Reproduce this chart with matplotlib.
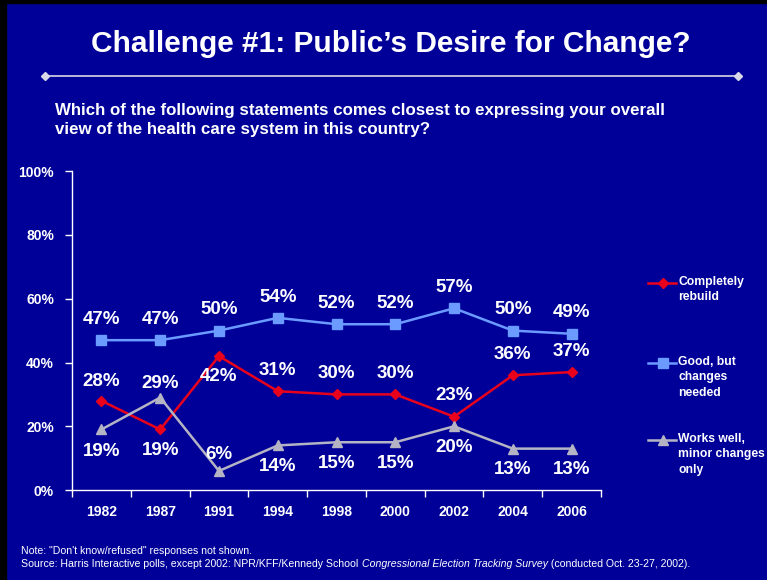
import matplotlib.pyplot as plt
from matplotlib.lines import Line2D
from matplotlib.patches import Rectangle

years = ["1982", "1987", "1991", "1994", "1998", "2000", "2002", "2004", "2006"]
good_but_changes = [47, 47, 50, 54, 52, 52, 57, 50, 49]
completely_rebuild = [28, 19, 42, 31, 30, 30, 23, 36, 37]
works_well = [19, 29, 6, 14, 15, 15, 20, 13, 13]
y_ticks = [0, 20, 40, 60, 80, 100]

# vertical offset of each value label from its point, in points (+ above, - below)
good_off = [15, 15, 15, 15, 15, 15, 15, 15, 15]
rebuild_off = [14, -15, -15, 15, 15, 15, 15, 15, 15]
works_off = [-16, 10, 12, -15, -15, -15, -15, -15, -15]

bg = "#000099"
red = "#e8001c"
blue = "#6b9bff"
gray = "#b4b4c4"

plt.rcParams["font.family"] = ["Liberation Sans", "DejaVu Sans"]

fig = plt.figure(figsize=(7.67, 5.8), dpi=100, facecolor=bg)
ax = fig.add_axes([0.0939, 0.155, 0.6897, 0.55])
ax.set_facecolor(bg)

x = range(len(years))
ax.plot(x, completely_rebuild, color=red, lw=1.8, marker="D", ms=5, zorder=3)
ax.plot(x, good_but_changes, color=blue, lw=1.8, marker="s", ms=6.5, zorder=3)
ax.plot(x, works_well, color=gray, lw=1.8, marker="^", ms=7, zorder=3)

for vals, offs in [(good_but_changes, good_off), (completely_rebuild, rebuild_off), (works_well, works_off)]:
    for i, (v, o) in enumerate(zip(vals, offs)):
        ax.annotate(f"{v}%", (i, v), xytext=(0, o), textcoords="offset points",
                    ha="center", va="center", color="white", fontsize=13.5, fontweight="bold")

ax.set_xlim(-0.5, len(years) - 0.5)
ax.set_ylim(0, 100)
ax.set_yticks(y_ticks)
ax.set_yticklabels([f"{t}%" for t in y_ticks])
ax.set_xticks(list(x))
ax.set_xticklabels(years)
ax.set_xticks([i - 0.5 for i in range(len(years) + 1)], minor=True)
ax.tick_params(axis="x", which="major", length=0, pad=11, colors="white", labelsize=10)
ax.tick_params(axis="x", which="minor", length=5, width=1, colors="white", direction="out")
ax.tick_params(axis="y", length=5, width=1, pad=8, colors="white", labelsize=10)
for lab in ax.get_xticklabels() + ax.get_yticklabels():
    lab.set_fontweight("bold")
for side in ["top", "right"]:
    ax.spines[side].set_visible(False)
for side in ["left", "bottom"]:
    ax.spines[side].set_color("white")
    ax.spines[side].set_linewidth(1)

# legend drawn by hand so the key lines sit on the first text line
legend_items = [
    (red, "D", 5, "Completely\nrebuild", 0.512),
    (blue, "s", 6.5, "Good, but\nchanges\nneeded", 0.374),
    (gray, "^", 7, "Works well,\nminor changes\nonly", 0.241),
]
for color, marker, ms, label, ly in legend_items:
    fig.add_artist(Line2D([0.845, 0.864, 0.882], [ly, ly, ly], transform=fig.transFigure,
                          color=color, lw=1.8, marker=marker, ms=ms, markevery=[1]))
    fig.text(0.884, ly + 0.013, label, color="white", fontsize=8.7, fontweight="bold",
             va="top", ha="left", linespacing=1.4)

# title, rule and question
fig.text(0.509, 0.924, "Challenge #1: Public\u2019s Desire for Change?", color="white",
         fontsize=21.5, fontweight="bold", ha="center", va="center")
fig.add_artist(Line2D([0.059, 0.962], [0.869, 0.869], transform=fig.transFigure,
                      color="#d8d8e8", lw=1.2, marker="D", ms=4, markevery=[0, 1]))
fig.text(0.072, 0.793, "Which of the following statements comes closest to expressing your overall\n"
         "view of the health care system in this country?", color="white", fontsize=12.2,
         fontweight="bold", ha="left", va="center", linespacing=1.4)

# footnotes
fig.text(0.028, 0.045, "Note: \"Don't know/refused\" responses not shown.", color="white", fontsize=7.6)
fig.canvas.draw()
r = fig.canvas.get_renderer()
parts = [("Source: Harris Interactive polls, except 2002: NPR/KFF/Kennedy School ", "normal"),
         ("Congressional Election Tracking Survey", "italic"),
         (" (conducted Oct. 23-27, 2002).", "normal")]
xpos = 0.028
for txt, style in parts:
    t = fig.text(xpos, 0.022, txt, color="white", fontsize=7.6, style=style)
    bb = t.get_window_extent(renderer=r)
    xpos += bb.width / fig.bbox.width

# dark frame on the left and top edges
fig.add_artist(Rectangle((0, 0), 0.008, 1, transform=fig.transFigure, color="black"))
fig.add_artist(Rectangle((0, 0.995), 1, 0.005, transform=fig.transFigure, color="black"))

fig.savefig("out.png", dpi=100, facecolor=bg)
